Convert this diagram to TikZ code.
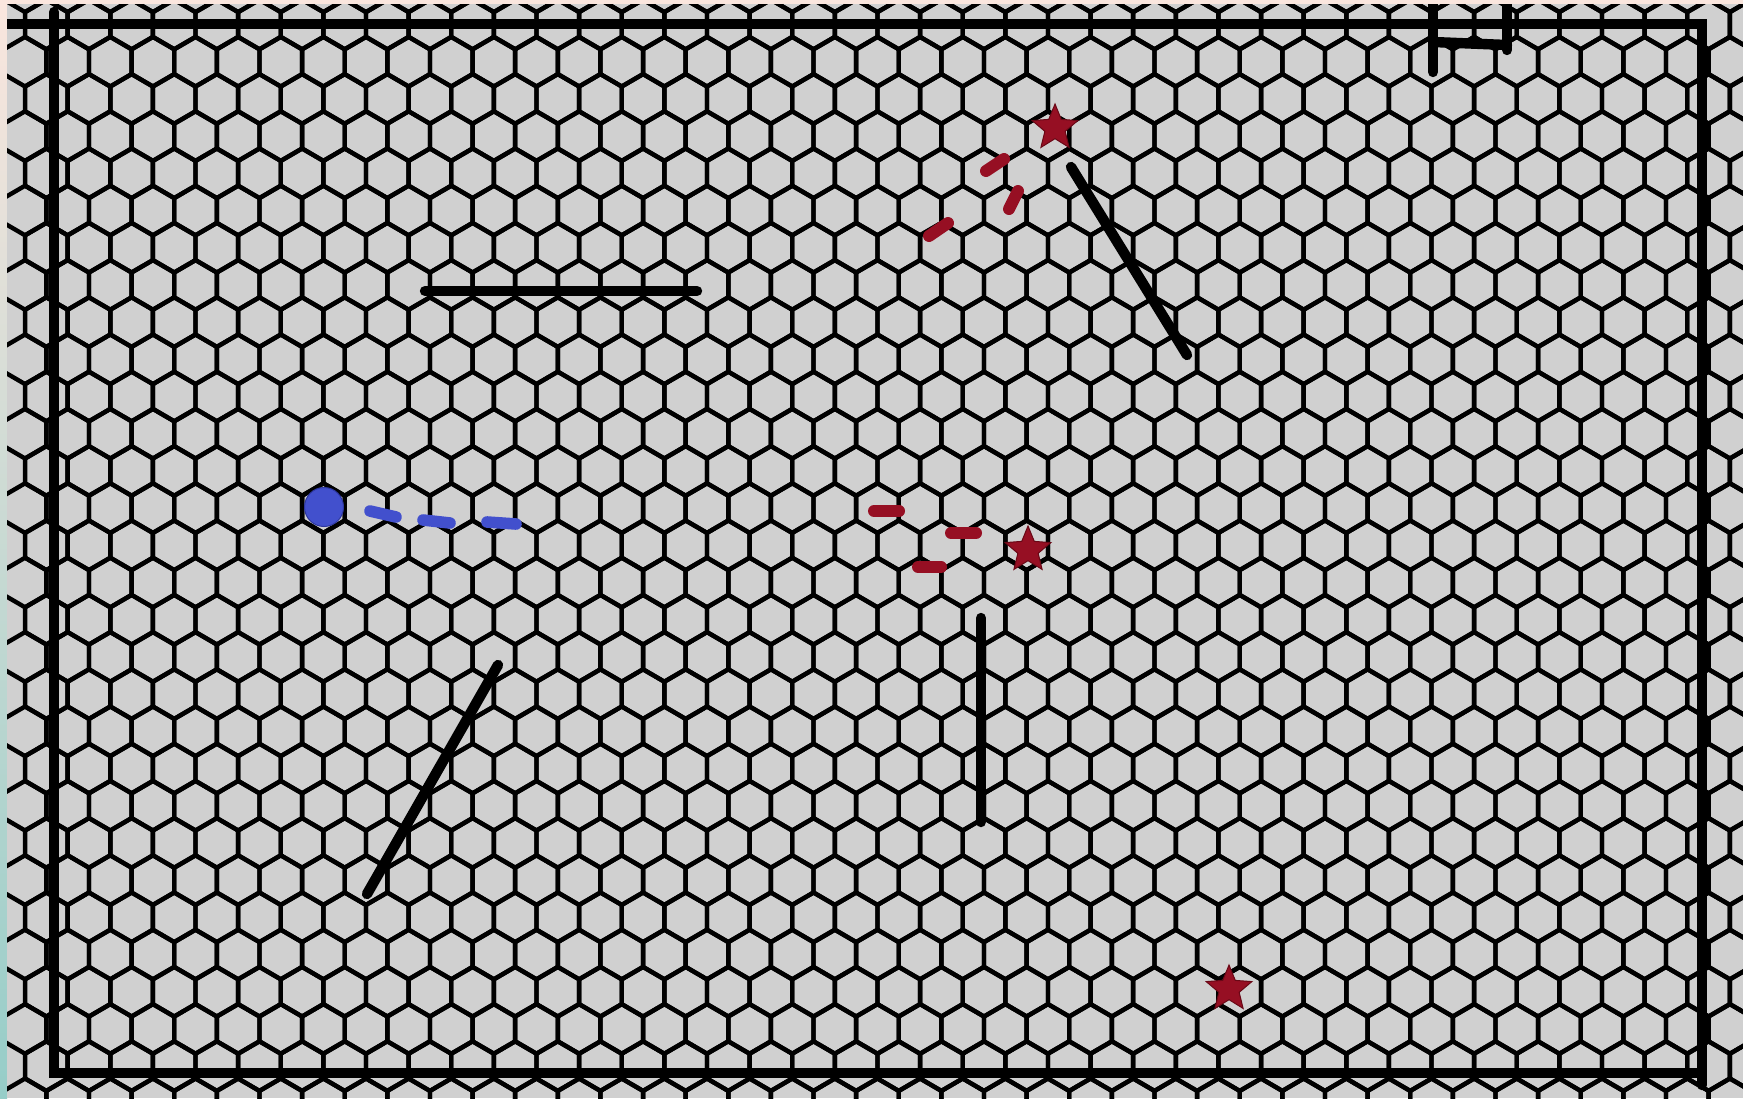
\documentclass[tikz,border=0pt]{standalone}
\usetikzlibrary{shapes.geometric}

\definecolor{cellgray}{RGB}{208,208,208}
\definecolor{edgepink}{RGB}{250,230,222}
\definecolor{edgemid}{RGB}{236,228,222}
\definecolor{edgeteal}{RGB}{150,205,200}
\definecolor{agentblue}{RGB}{66,80,205}
\definecolor{agentblueline}{RGB}{45,55,160}
\definecolor{goalred}{RGB}{150,15,35}
\definecolor{goalredline}{RGB}{105,8,22}

\tikzset{
  hexline/.style={draw=black, line width=2.2pt},
  wall/.style={draw=black, line width=5.2pt, line cap=round},
  bluetrail/.style={draw=agentblue, line width=5.8pt, line cap=round},
  redtrail/.style={draw=goalred, line width=6pt, line cap=round},
  goal/.style={star, star points=5, star point ratio=2.25, minimum size=24pt,
    inner sep=0pt, fill=goalred, draw=goalredline, line width=0.5pt},
  agent/.style={circle, minimum size=19.5pt, inner sep=0pt, fill=agentblue,
    draw=agentblueline, line width=0.5pt}
}

\begin{document}
\begin{tikzpicture}[x=0.5pt, y=-0.5pt]
\useasboundingbox (0,0) rectangle (1743,1098);

% frame strips
\fill[edgepink] (0,0) rectangle (1743,4);
\shade[top color=edgepink, middle color=edgemid, bottom color=edgeteal]
  (0,0) rectangle (7,1098);

\begin{scope}
\clip (7,4) rectangle (1743,1098);
\fill[cellgray] (7,4) rectangle (1743,1098);

% hexagonal floor grid (pointy-top cells)
\foreach \r in {0,...,30} {
  \pgfmathsetmacro{\cy}{61.7+37.2*(\r-2)}
  \pgfmathsetmacro{\shift}{21.31*mod(\r,2)}
  \foreach \k in {-2,...,39} {
    \pgfmathsetmacro{\cx}{110.3+42.62*\k+\shift}
    \draw[hexline] ({\cx-21.31},{\cy-12.4}) -- (\cx,{\cy-24.8})
      -- ({\cx+21.31},{\cy-12.4}) -- ({\cx+21.31},{\cy+12.4})
      -- (\cx,{\cy+24.8}) -- ({\cx-21.31},{\cy+12.4}) -- cycle;
  }
}

% outer walls
\draw[wall] (1702,1085) -- (1702,24) -- (0,24);
\draw[wall, line join=miter] (54,12) -- (54,1073) -- (1700,1073);

% door in the top wall
\draw[wall] (1433,0) -- (1433,72);
\draw[wall] (1507,0) -- (1507,50);
\draw[wall] (1433,42) -- (1507,45);

% inner walls
\draw[wall] (425,291) -- (697,291);
\draw[wall] (1071,167) -- (1187,355);
\draw[wall] (498,665) -- (367,894);
\draw[wall] (981,618) -- (981,822);

% agent and its trail
\node[agent] (agent) at (324,507) {};
\draw[bluetrail] (370,511) -- (396,517);
\draw[bluetrail] (423,520) -- (450,523);
\draw[bluetrail] (487,522) -- (516,524);

% goals
\node[goal] (goalA) at (1055,128) {};
\node[goal] (goalB) at (1028,550) {};
\node[goal] (goalC) at (1229,989) {};

% trails near the goals
\draw[redtrail] (929,236) -- (948,223);
\draw[redtrail] (986,171) -- (1004,159);
\draw[redtrail] (1009,209) -- (1018,191);
\draw[redtrail] (874,511) -- (899,511);
\draw[redtrail] (951,533) -- (976,533);
\draw[redtrail] (918,567) -- (941,567);
\end{scope}
\end{tikzpicture}
\end{document}
